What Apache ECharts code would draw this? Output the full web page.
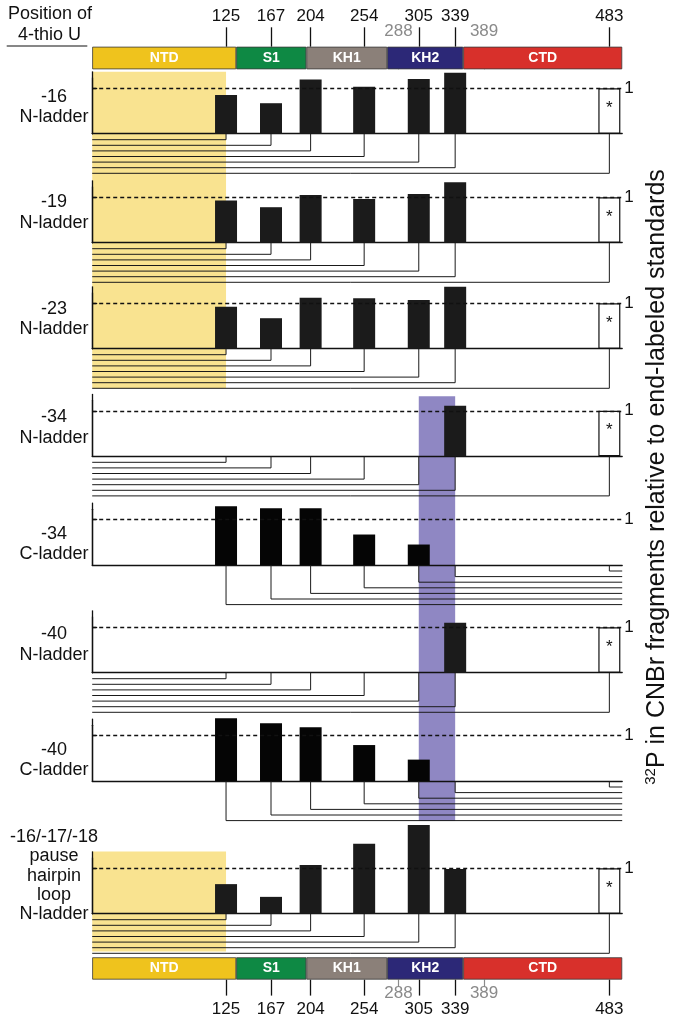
<!DOCTYPE html>
<html><head><meta charset="utf-8">
<script src="https://cdn.jsdelivr.net/npm/echarts@6/dist/echarts.min.js"></script>
<style>html,body{margin:0;padding:0;background:#fff}#c{width:674px;height:1023px}</style>
</head><body><div id="c"></div>
<script>
// ---------------- data ----------------
const proteinLength = 495;
const cleavageSites = [125, 167, 204, 254, 305, 339];
const standardSite = 483;
const standardValue = 1;
const axisTickSites = [125, 167, 204, 254, 305, 339, 483];
const grayTickLabels = ['288', '389'];
const grayTickPos = [286, 366];
const domainNames = ['NTD', 'S1', 'KH1', 'KH2', 'CTD'];
const domainStarts = [0, 134.5, 200, 275.5, 346.5];
const domainEnds = [134.5, 200, 275.5, 346.5, 495];
const domainColors = ['#efc31d', '#0e8944', '#8b8079', '#2c2877', '#d8302b'];

const panelTitles = [
  ['-16', 'N-ladder'],
  ['-19', 'N-ladder'],
  ['-23', 'N-ladder'],
  ['-34', 'N-ladder'],
  ['-34', 'C-ladder'],
  ['-40', 'N-ladder'],
  ['-40', 'C-ladder'],
  ['-16/-17/-18', 'pause', 'hairpin', 'loop', 'N-ladder']
];
const panelLadders = ['N', 'N', 'N', 'N', 'C', 'N', 'C', 'N'];
// relative 32P signal at the cleavage sites 125,167,204,254,305,339
const valsU16 = [0.85, 0.67, 1.19, 1.03, 1.20, 1.34];
const valsU19 = [0.93, 0.78, 1.05, 0.96, 1.07, 1.33];
const valsU23 = [0.92, 0.67, 1.12, 1.11, 1.07, 1.36];
const valsU34N = [null, null, null, null, null, 1.11];
const valsU34C = [1.29, 1.25, 1.25, 0.67, 0.45, null];
const valsU40N = [null, null, null, null, null, 1.10];
const valsU40C = [1.38, 1.27, 1.18, 0.79, 0.47, null];
const valsLoop = [0.65, 0.37, 1.07, 1.54, 1.95, 0.98];
const panelValues = [valsU16, valsU19, valsU23, valsU34N, valsU34C, valsU40N, valsU40C, valsLoop];
const yellowSpan = [0, 125];
const purpleSpan = [305, 339];

// ---------------- layout ----------------
const FONT = "'Liberation Sans', Arial, Helvetica, sans-serif";
const L = 92.2, R = 674 - 622.2;
const baselines = [133.7, 242.7, 348.7, 456.3, 565, 672.7, 781, 913.7];
const unitPx = 45.5, yMax = 1.36, rightAxisMax = 1.224;
const labelOffsets = [[-37, -17], [-41, -20], [-40, -20], [-39, -18], [-31, -11], [-39, -18], [-31, -11], [-77, -57.5, -38, -18.7, 0.3]];
const lineGap0 = 6, lineGap = 5.6;

const grids = [], xAxes = [], yAxes = [], series = [], graphics = [];
function hiddenX(gi) { return { gridIndex: gi, type: 'value', min: 0, max: proteinLength, show: false }; }

function addBand(top, height, span, color) {
  const gi = grids.length;
  grids.push({ left: L, right: R, top: top, height: height });
  xAxes.push(hiddenX(gi));
  yAxes.push({ gridIndex: gi, type: 'value', min: 0, max: 1, show: false });
  series.push({
    type: 'custom', xAxisIndex: gi, yAxisIndex: gi, z: -5, silent: true,
    data: [[span[0], span[1]]], encode: { x: [0, 1] },
    renderItem: function (p, api) {
      const a = api.coord([api.value(0), 1]), b = api.coord([api.value(1), 0]);
      return { type: 'rect', shape: { x: a[0], y: a[1], width: b[0] - a[0], height: b[1] - a[1] }, style: { fill: color } };
    }
  });
}
addBand(71.7, 316.5, yellowSpan, '#f9e390');
addBand(851.5, 100, yellowSpan, '#f9e390');
addBand(396.3, 424.7, purpleSpan, '#8f87c3');

const axisLS = { color: '#111', width: 1.3 };
panelValues.forEach(function (vals, i) {
  const B = baselines[i];
  const gi = grids.length;
  grids.push({ left: L, right: R, top: B - unitPx * yMax, height: unitPx * yMax });
  xAxes.push({ gridIndex: gi, type: 'value', min: 0, max: proteinLength,
    axisLine: { show: true, onZero: true, lineStyle: axisLS }, axisTick: { show: false },
    axisLabel: { show: false }, splitLine: { show: false } });
  yAxes.push({ gridIndex: gi, type: 'value', min: 0, max: yMax,
    axisLine: { show: true, lineStyle: axisLS }, axisTick: { show: false },
    axisLabel: { show: false }, splitLine: { show: false } });
  const ladder = panelLadders[i];
  const barData = [];
  cleavageSites.forEach(function (s, k) { if (vals[k] != null) barData.push([s, vals[k]]); });
  if (ladder === 'N') {
    barData.push({ value: [standardSite, standardValue],
      itemStyle: { color: '#fff', borderColor: '#111', borderWidth: 1.2 },
      label: { show: true, position: 'inside', formatter: '*', color: '#111', fontSize: 17, fontFamily: FONT, offset: [0, -3] } });
  }
  const sites = cleavageSites.concat([standardSite]);
  const ordered = ladder === 'N' ? sites.slice() : sites.slice().reverse();
  series.push({
    type: 'custom', xAxisIndex: gi, yAxisIndex: gi, z: 1, silent: true,
    data: ordered.map(function (s, r) { return [s, r]; }), encode: { x: 0 },
    renderItem: function (p, api) {
      const pt = api.coord([api.value(0), 0]);
      const end = api.coord([ladder === 'N' ? 0 : proteinLength, 0])[0];
      const y = pt[1] + lineGap0 + api.value(1) * lineGap;
      return { type: 'polyline', shape: { points: [[end, y], [pt[0], y], [pt[0], pt[1]]] },
        style: { stroke: '#1a1a1a', lineWidth: 1, fill: null } };
    },
    markLine: { silent: true, symbol: 'none', label: { show: false },
      lineStyle: { color: '#111', width: 1.3, type: [4, 3] }, data: [{ yAxis: 1 }] }
  });
  series.push({
    type: 'bar', xAxisIndex: gi, yAxisIndex: gi, z: 3, clip: false, barWidth: 22,
    itemStyle: { color: ladder === 'C' ? '#050505' : '#1b1b1b' },
    data: barData, silent: true
  });
  // right axis with the "1" reference tick
  const gr = grids.length;
  const rh = unitPx * rightAxisMax;
  grids.push({ left: L, right: R, top: B - rh, height: rh });
  xAxes.push(hiddenX(gr));
  yAxes.push({ gridIndex: gr, type: 'value', position: 'right', min: 0, max: rightAxisMax,
    axisLine: { show: true, lineStyle: axisLS },
    axisTick: { show: true, customValues: [1], length: 5, lineStyle: axisLS },
    axisLabel: { show: true, customValues: [1], margin: 2, fontSize: 17, color: '#111', fontFamily: FONT, formatter: function (v) { return String(v); } },
    splitLine: { show: false } });
  // panel labels
  panelTitles[i].forEach(function (t, k) {
    graphics.push({ type: 'text', x: 54, y: B + labelOffsets[i][k],
      style: { text: t, fontSize: 18, fontFamily: FONT, fill: '#111', align: 'center', verticalAlign: 'middle', textAlign: 'center', textVerticalAlign: 'middle' } });
  });
});

function addDomainBar(top, height, pos, blackLen, blackMargin, grayLen, grayMargin) {
  const gi = grids.length;
  grids.push({ left: L, right: R, top: top, height: height });
  xAxes.push({ gridIndex: gi, type: 'value', min: 0, max: proteinLength, position: pos,
    axisLine: { show: false }, splitLine: { show: false },
    axisTick: { show: true, customValues: axisTickSites, length: blackLen, lineStyle: { color: '#111', width: 1.3 } },
    axisLabel: { show: true, customValues: axisTickSites, margin: blackMargin, fontSize: 17, color: '#111', fontFamily: FONT, formatter: function (v) { return String(v); } } });
  yAxes.push({ gridIndex: gi, type: 'category', data: ['domains'], show: false });
  domainNames.forEach(function (n, k) {
    series.push({ type: 'bar', name: n, xAxisIndex: gi, yAxisIndex: gi, stack: 'dom' + gi, barWidth: height, z: 4,
      data: [domainEnds[k] - domainStarts[k]], silent: true,
      itemStyle: { color: domainColors[k], borderColor: '#3a3a3a', borderWidth: 0.8 },
      label: { show: true, position: 'inside', formatter: n, color: '#fff', fontWeight: 'bold', fontSize: 14, fontFamily: FONT } });
  });
  const g2 = grids.length;
  grids.push({ left: L, right: R, top: top, height: height });
  xAxes.push({ gridIndex: g2, type: 'value', min: 0, max: proteinLength, position: pos,
    axisLine: { show: false }, splitLine: { show: false },
    axisTick: { show: true, customValues: grayTickPos, length: grayLen, lineStyle: { color: '#8a8a8a', width: 1.2 } },
    axisLabel: { show: true, customValues: grayTickPos, margin: grayMargin, fontSize: 17, color: '#8a8a8a', fontFamily: FONT,
      formatter: function (v) { return grayTickLabels[grayTickPos.indexOf(v)]; } } });
  yAxes.push({ gridIndex: g2, type: 'value', show: false });
}
addDomainBar(46.7, 22.6, 'top', 19.4, 22, 6.7, 6.5);
addDomainBar(957.3, 22.3, 'bottom', 16, 21, 7.3, 5);

graphics.push({ type: 'text', x: 50, y: 14.5, style: { text: 'Position of', fontSize: 18, fontFamily: FONT, fill: '#111', align: 'center', verticalAlign: 'middle', textAlign: 'center', textVerticalAlign: 'middle' } });
graphics.push({ type: 'text', x: 49.5, y: 35, style: { text: '4-thio U', fontSize: 18, fontFamily: FONT, fill: '#111', align: 'center', verticalAlign: 'middle', textAlign: 'center', textVerticalAlign: 'middle' } });
graphics.push({ type: 'line', shape: { x1: 6.7, y1: 46, x2: 87.3, y2: 46 }, style: { stroke: '#111', lineWidth: 1.2 } });
graphics.push({ type: 'text', x: 657.5, y: 477, rotation: Math.PI / 2,
  style: { text: '{s|32}{b|P in CNBr fragments relative to end-labeled standards}',
    align: 'center', verticalAlign: 'middle', textAlign: 'center', textVerticalAlign: 'middle', fill: '#111',
    rich: { s: { fontSize: 15, fontFamily: FONT, fill: '#111', color: '#111', verticalAlign: 'top', lineHeight: 28 },
            b: { fontSize: 25, fontFamily: FONT, fill: '#111', color: '#111', lineHeight: 28 } } } });

const chart = echarts.init(document.getElementById('c'), null, { renderer: 'canvas' });
chart.setOption({
  animation: false,
  backgroundColor: '#fff',
  textStyle: { fontFamily: FONT },
  grid: grids, xAxis: xAxes, yAxis: yAxes, series: series, graphic: graphics
});
</script></body></html>
